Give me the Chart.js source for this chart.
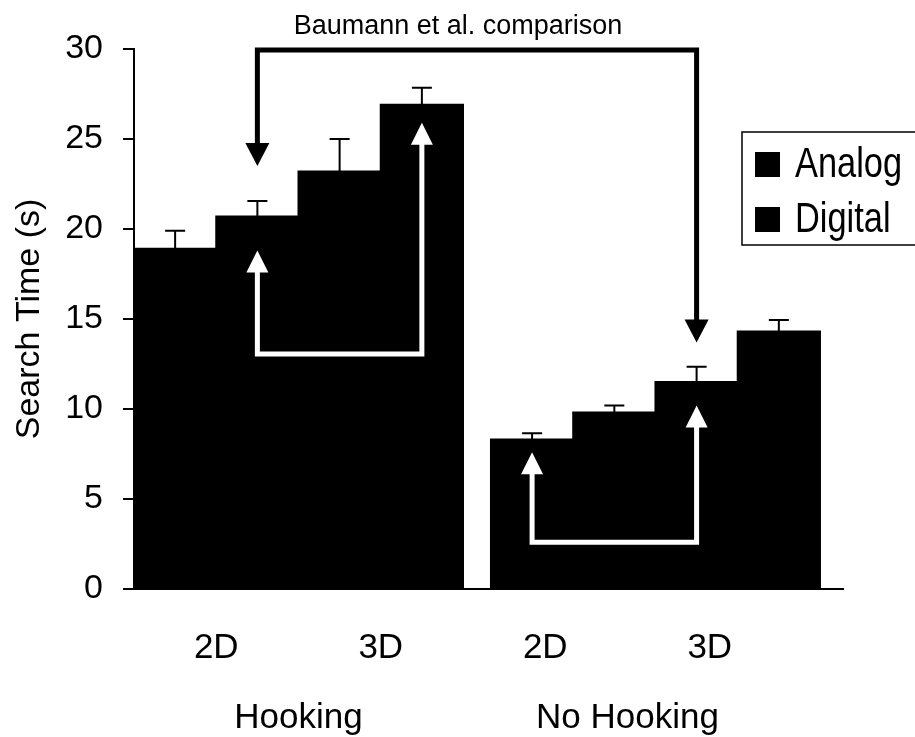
<!DOCTYPE html>
<html>
<head>
<meta charset="utf-8">
<script src="https://cdn.jsdelivr.net/npm/chart.js@4/dist/chart.umd.min.js"></script>
<style>
  body { margin: 0; background: #fff; }
  canvas { display: block; }
</style>
</head>
<body>
<canvas id="myChart" width="915" height="737"></canvas>
<script>
// data
const tickLabels = ['2D', '3D', '2D', '3D'];
const groupLabels = ['Hooking', 'No Hooking'];
const seriesNames = ['Analog', 'Digital'];
const analog = [18.9, 23.2, 8.3, 11.5];
const digital = [20.7, 26.9, 9.8, 14.3];
const analogErr = [1.0, 1.8, 0.35, 0.85];
const digitalErr = [0.85, 0.95, 0.4, 0.65];

// layout: where each pair of bars sits on the x axis (No Hooking pairs shifted right a bit)
const slotX = [0, 1, 2.17, 3.17];
const tickX = [0, 1, 2, 3];
const groupX = [0.5, 2.5];

const FONT = "'Liberation Sans', Arial, Helvetica, sans-serif";

function toPoints(vals) {
  return vals.map((v, i) => ({ x: slotX[i], y: v }));
}

// error bars (upper whisker only)
const errorBars = {
  id: 'errorBars',
  afterDatasetsDraw(chart) {
    const ctx = chart.ctx;
    const y = chart.scales.y;
    const errs = [analogErr, digitalErr];
    ctx.save();
    ctx.strokeStyle = '#000';
    ctx.lineWidth = 2;
    errs.forEach((e, d) => {
      const meta = chart.getDatasetMeta(d);
      meta.data.forEach((bar, i) => {
        const v = chart.data.datasets[d].data[i].y;
        const top = y.getPixelForValue(v + e[i]);
        ctx.beginPath();
        ctx.moveTo(bar.x, bar.y);
        ctx.lineTo(bar.x, top);
        ctx.moveTo(bar.x - 10, top);
        ctx.lineTo(bar.x + 10, top);
        ctx.stroke();
      });
    });
    ctx.restore();
  }
};

function head(ctx, x, tip, h, w, dir) {
  // dir = 1 points down, -1 points up
  ctx.beginPath();
  ctx.moveTo(x, tip);
  ctx.lineTo(x - w, tip - dir * h);
  ctx.lineTo(x + w, tip - dir * h);
  ctx.closePath();
  ctx.fill();
}

// comparison brackets and the legend box
const annotations = {
  id: 'annotations',
  afterDraw(chart) {
    const ctx = chart.ctx;
    const y = chart.scales.y;
    const bar = (d, i) => chart.getDatasetMeta(d).data[i];
    ctx.save();
    ctx.lineCap = 'square';
    ctx.lineJoin = 'miter';

    // black bracket: Baumann et al. comparison
    let xl = bar(1, 0).x, xr = bar(0, 3).x;
    let yTop = y.getPixelForValue(30) + 1;
    let tl = y.getPixelForValue(23.5), tr = y.getPixelForValue(13.7);
    ctx.strokeStyle = '#000';
    ctx.fillStyle = '#000';
    ctx.lineWidth = 5;
    ctx.beginPath();
    ctx.moveTo(xl, tl - 20);
    ctx.lineTo(xl, yTop);
    ctx.lineTo(xr, yTop);
    ctx.lineTo(xr, tr - 20);
    ctx.stroke();
    head(ctx, xl, tl, 23, 12, 1);
    head(ctx, xr, tr, 23, 12, 1);

    ctx.font = '27px ' + FONT;
    ctx.textAlign = 'center';
    ctx.textBaseline = 'alphabetic';
    ctx.fillText('Baumann et al. comparison', (xl + xr) / 2 - 19, 34);

    // white brackets inside the bars
    ctx.strokeStyle = '#fff';
    ctx.fillStyle = '#fff';
    ctx.lineWidth = 5;
    const white = [
      { a: [1, 0], b: [1, 1], base: 13.05, ta: 18.8, tb: 25.9 },
      { a: [0, 2], b: [0, 3], base: 2.6, ta: 7.6, tb: 10.2 }
    ];
    white.forEach(w => {
      const x1 = bar(...w.a).x, x2 = bar(...w.b).x;
      const yb = y.getPixelForValue(w.base);
      const t1 = y.getPixelForValue(w.ta), t2 = y.getPixelForValue(w.tb);
      ctx.beginPath();
      ctx.moveTo(x1, t1 + 18);
      ctx.lineTo(x1, yb);
      ctx.lineTo(x2, yb);
      ctx.lineTo(x2, t2 + 18);
      ctx.stroke();
      head(ctx, x1, t1, 22, 11, -1);
      head(ctx, x2, t2, 22, 11, -1);
    });

    // legend
    ctx.strokeStyle = '#000';
    ctx.lineWidth = 1.5;
    ctx.strokeRect(742, 132, 200, 113);
    ctx.fillStyle = '#000';
    ctx.textAlign = 'left';
    ctx.font = '43px ' + FONT;
    seriesNames.forEach((name, i) => {
      const base = 177 + i * 55;
      ctx.fillRect(755, base - 25, 25, 25);
      ctx.save();
      ctx.translate(795, base);
      ctx.scale(0.8, 1);
      ctx.fillText(name, 0, 0);
      ctx.restore();
    });
    ctx.restore();
  }
};

let ctx = document.getElementById('myChart').getContext('2d');
let myChart = new Chart(ctx, {
  type: 'bar',
  data: {
    datasets: [
      { label: seriesNames[0], data: toPoints(analog), backgroundColor: '#000', borderWidth: 0, inflateAmount: 1 },
      { label: seriesNames[1], data: toPoints(digital), backgroundColor: '#000', borderWidth: 0, inflateAmount: 1 }
    ]
  },
  options: {
    responsive: false,
    animation: false,
    devicePixelRatio: 1,
    barPercentage: 1,
    categoryPercentage: 1,
    layout: { padding: { top: 49, right: 72, bottom: 0, left: 0 } },
    plugins: {
      legend: { display: false },
      tooltip: { enabled: false }
    },
    scales: {
      x: {
        type: 'linear',
        min: -0.5,
        max: 3.81,
        bounds: 'data',
        offset: false,
        weight: 0,
        afterBuildTicks(scale) { scale.ticks = tickX.map(v => ({ value: v })); },
        afterFit(scale) { scale.height = 91; },
        grid: { display: true, drawOnChartArea: false, drawTicks: false, offset: false },
        border: { display: true, color: '#000', width: 2 },
        ticks: {
          autoSkip: false,
          maxRotation: 0,
          padding: 38,
          color: '#000',
          font: { family: FONT, size: 35 },
          callback: (v, i) => tickLabels[i]
        }
      },
      x2: {
        type: 'linear',
        position: 'bottom',
        axis: 'x',
        min: -0.5,
        max: 3.81,
        bounds: 'data',
        offset: false,
        weight: 1,
        afterBuildTicks(scale) { scale.ticks = groupX.map(v => ({ value: v })); },
        afterFit(scale) { scale.height = 57; },
        grid: { display: false, drawTicks: false },
        border: { display: false },
        ticks: {
          autoSkip: false,
          maxRotation: 0,
          padding: 17,
          color: '#000',
          font: { family: FONT, size: 35 },
          callback: (v, i) => groupLabels[i]
        }
      },
      y: {
        min: 0,
        max: 30,
        afterFit(scale) { scale.width = 134; },
        grid: { drawOnChartArea: false, drawTicks: true, tickLength: 11, color: '#000', lineWidth: 2 },
        border: { display: true, color: '#000', width: 2 },
        ticks: {
          stepSize: 5,
          padding: 20,
          color: '#000',
          font: { family: FONT, size: 34 }
        },
        title: {
          display: true,
          text: 'Search Time (s)',
          color: '#000',
          font: { family: FONT, size: 34 },
          padding: { top: 9, bottom: 0 }
        }
      }
    }
  },
  plugins: [errorBars, annotations]
});
</script>
</body>
</html>
